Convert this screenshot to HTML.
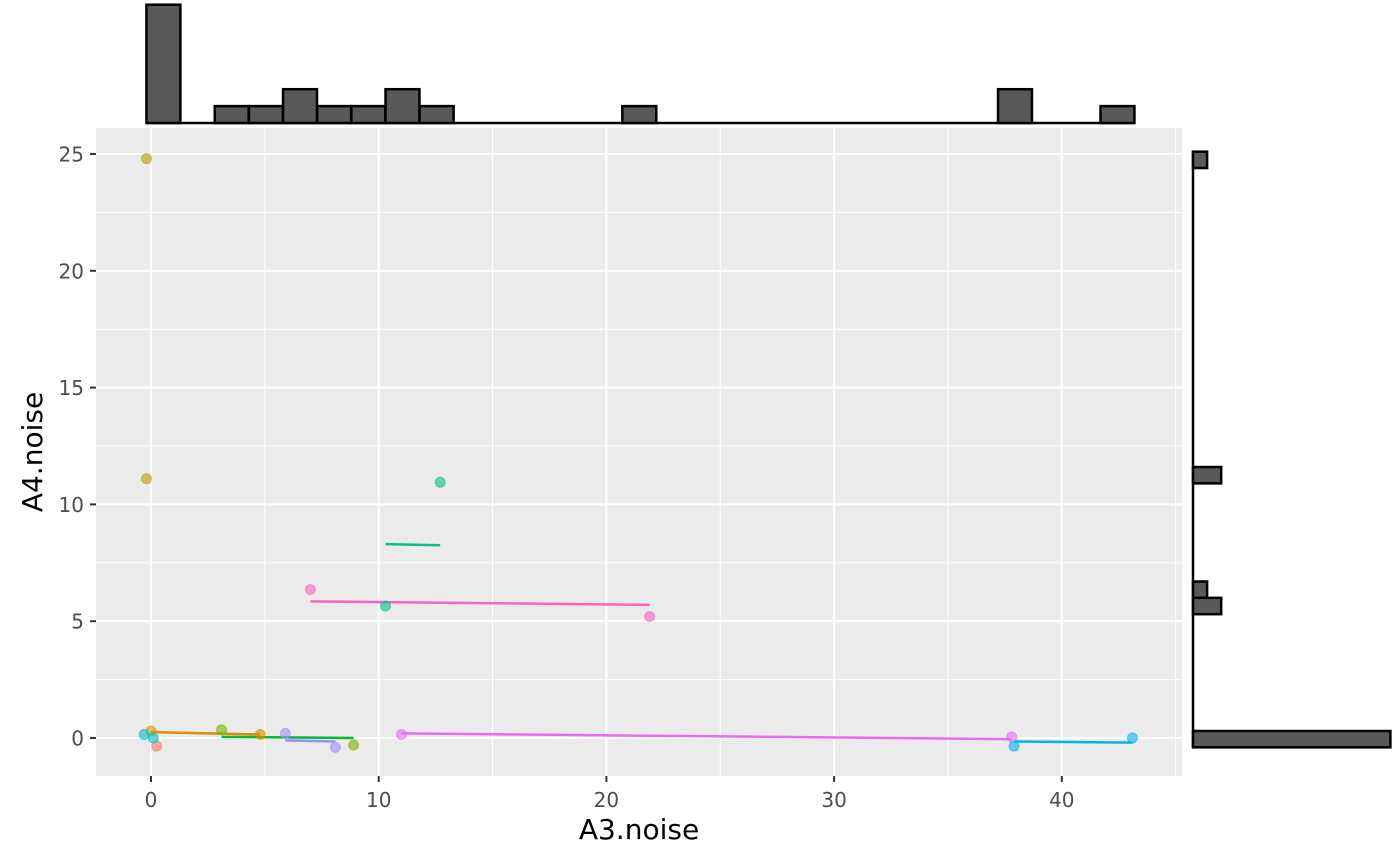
<!DOCTYPE html>
<html><head><meta charset="utf-8"><style>body{margin:0;background:#fff}svg{display:block;font-family:"DejaVu Sans","Liberation Sans",sans-serif}</style></head>
<body>
<svg id="c" width="1400" height="865"></svg>
<script>
const xTicks=[0,10,20,30,40];
const yTicks=[0,5,10,15,20,25];
const colors=["#F8766D","#DE8C00","#B79F00","#7CAE00","#00BA38","#00C08B","#00BFC4","#00B4F0","#619CFF","#9590FF","#E76BF3","#FF62BC"];
const ptX=[0.25,0,4.8,-0.2,-0.2,3.1,8.9,12.7,10.3,-0.3,0.1,37.9,43.1,5.9,8.1,11.0,37.8,7.0,21.9];
const ptY=[-0.35,0.3,0.15,24.8,11.1,0.35,-0.3,10.95,5.65,0.15,0,-0.35,0,0.2,-0.4,0.15,0.05,6.35,5.2];
const ptG=[0,1,1,2,2,3,3,5,5,6,6,7,7,9,9,10,10,11,11];
const lnX1=[0,3.1,10.3,37.9,5.9,11.0,7.0];
const lnX2=[4.8,8.9,12.7,43.1,8.1,37.8,21.9];
const lnY1=[0.25,0.05,8.3,-0.15,-0.1,0.2,5.85];
const lnY2=[0.15,0.0,8.25,-0.2,-0.15,-0.05,5.7];
const lnG=[1,4,5,7,9,10,11];
const topBinStart=[-0.2,2.8,4.3,5.8,7.3,8.8,10.3,11.8,20.7,37.2,41.7];
const topCounts=[7,1,1,2,1,1,2,1,1,2,1];
const rightBinStart=[24.4,10.9,6.0,5.3,-0.4];
const rightCounts=[1,2,1,2,14];
const xBinW=1.49, yBinW=0.7;
const X0=96,X1=1182,Y0=128,Y1=776;
const sx=v=>151+v*22.77, sy=v=>738-v*23.36;
const svg=document.getElementById('c');const NS="http://www.w3.org/2000/svg";
function el(t,a,p){const e=document.createElementNS(NS,t);for(const k in a)e.setAttribute(k,a[k]);(p||svg).appendChild(e);return e;}
const panel=el('rect',{x:X0,y:Y0,width:X1-X0,height:Y1-Y0,fill:'#EBEBEB'});


for(let v=-2.5;v<=45;v+=2.5){const major=v%5===0;const px=sx(v*2);if(px>X0&&px<X1)el('line',{x1:px,x2:px,y1:Y0,y2:Y1,stroke:'#fff','stroke-width':major?2.1:1});}
for(let v=-2.5;v<=27.5;v+=2.5){const py=sy(v);if(py>Y0&&py<Y1)el('line',{x1:X0,x2:X1,y1:py,y2:py,stroke:'#fff','stroke-width':v%5===0?2.1:1});}
xTicks.forEach(t=>{el('line',{x1:sx(t),x2:sx(t),y1:Y1,y2:Y1+6,stroke:'#333','stroke-width':2});
const tx=el('text',{x:sx(t),y:807,'text-anchor':'middle','font-size':20,fill:'#4d4d4d'});tx.textContent=t;

});
yTicks.forEach(t=>{el('line',{x1:X0-6,x2:X0,y1:sy(t),y2:sy(t),stroke:'#333','stroke-width':2});
const tx=el('text',{x:X0-12,y:sy(t)+7.5,'text-anchor':'end','font-size':20,fill:'#4d4d4d'});tx.textContent=t;

});
lnX1.forEach((v,i)=>{const l=el('line',{x1:sx(v),x2:sx(lnX2[i]),y1:sy(lnY1[i]),y2:sy(lnY2[i]),stroke:colors[lnG[i]],'stroke-width':2.5});

});
ptX.forEach((v,i)=>{const c=el('circle',{cx:sx(v),cy:sy(ptY[i]),r:5,fill:colors[ptG[i]],'fill-opacity':0.6,stroke:colors[ptG[i]],'stroke-opacity':0.6});

});
const tb=123,tu=16.9;
el('line',{x1:sx(-0.2),x2:sx(41.7+xBinW),y1:tb,y2:tb,stroke:'#000','stroke-width':2.5});
topBinStart.forEach((s,i)=>{const h=topCounts[i]*tu;const r=el('rect',{x:sx(s),y:tb-h,width:xBinW*22.77,height:h,fill:'#595959',stroke:'#000','stroke-width':2.5});

});
const rb=1193,ru=14.1;
el('line',{x1:rb,x2:rb,y1:sy(24.4+yBinW),y2:sy(-0.4),stroke:'#000','stroke-width':2.5});
rightBinStart.forEach((s,i)=>{const w=rightCounts[i]*ru;const r=el('rect',{x:rb,y:sy(s+yBinW),width:w,height:yBinW*23.36,fill:'#595959',stroke:'#000','stroke-width':2.5});

});
const xt=el('text',{x:639,y:839,'text-anchor':'middle','font-size':28,fill:'#000'});xt.textContent='A3.noise';


const yt=el('text',{x:0,y:0,'text-anchor':'middle','font-size':28,fill:'#000',transform:'translate(42,452) rotate(-90)'});yt.textContent='A4.noise';


</script>
</body></html>
